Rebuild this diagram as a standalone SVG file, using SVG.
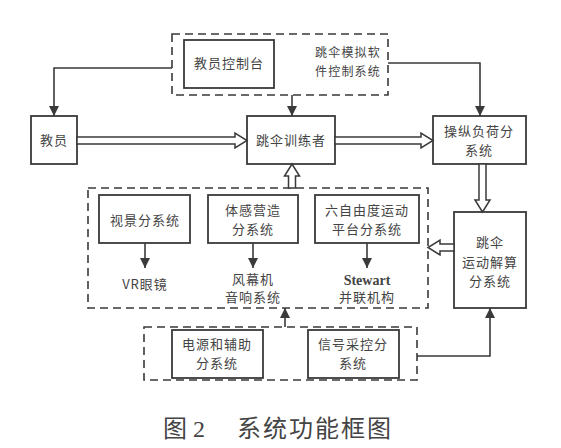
<svg xmlns="http://www.w3.org/2000/svg" width="561" height="448" viewBox="0 0 561 448">
<defs>
<style>
.box{fill:#fff;stroke:#3a3a3a;stroke-width:1.8}
.dash{fill:none;stroke:#3a3a3a;stroke-width:1.6;stroke-dasharray:8,5}
.ln{fill:none;stroke:#3a3a3a;stroke-width:1.6}
.hol{fill:#fff;stroke:#3a3a3a;stroke-width:1.5;stroke-linejoin:miter}
.t{font-family:"Noto Sans CJK SC","Liberation Sans",sans-serif;font-size:13px;fill:#444;text-anchor:middle;letter-spacing:1px}
.tl{font-family:"Noto Sans CJK SC","Liberation Sans",sans-serif;font-size:12px;fill:#444;letter-spacing:1.2px}
.en{font-family:"Liberation Serif",serif;font-size:14px;font-weight:bold;fill:#444;text-anchor:middle}
.cap{font-family:"Liberation Serif","Noto Sans CJK SC",serif;font-size:24px;fill:#444}
</style>
<marker id="ah" viewBox="0 0 10 10" refX="10" refY="5" markerWidth="10" markerHeight="10" markerUnits="userSpaceOnUse" orient="auto">
<path d="M0,0 L10,5 L0,10 z" fill="#3a3a3a"/>
</marker>
</defs>
<rect width="561" height="448" fill="#fff"/>

<g id="software-group">
<rect class="dash" x="172" y="34" width="216" height="61"/>
<text class="tl" x="315" y="57">跳伞模拟软</text>
<text class="tl" x="315" y="76">件控制系统</text>
</g>
<g id="console">
<rect class="box" x="184" y="40" width="90" height="48"/>
<text class="t" x="229" y="68">教员控制台</text>
</g>
<g id="instructor">
<rect class="box" x="31" y="116" width="46" height="48"/>
<text class="t" x="54" y="145">教员</text>
</g>
<g id="trainee">
<rect class="box" x="247" y="116" width="88" height="48"/>
<text class="t" x="291" y="145">跳伞训练者</text>
</g>
<g id="load">
<rect class="box" x="433" y="116" width="93" height="48"/>
<text class="t" x="479" y="136">操纵负荷分</text>
<text class="t" x="479" y="155">系统</text>
</g>
<g id="solver">
<rect class="box" x="454" y="212" width="72" height="96"/>
<text class="t" x="490" y="247">跳伞</text>
<text class="t" x="490" y="267">运动解算</text>
<text class="t" x="490" y="286">分系统</text>
</g>
<g id="sub-group">
<rect class="dash" x="88" y="188" width="340" height="120"/>
</g>
<g id="visual">
<rect class="box" x="99" y="195" width="91" height="48"/>
<text class="t" x="145" y="225">视景分系统</text>
<text class="t" x="145" y="289">VR眼镜</text>
</g>
<g id="sense">
<rect class="box" x="208" y="195" width="90" height="48"/>
<text class="t" x="253" y="215">体感营造</text>
<text class="t" x="253" y="234">分系统</text>
<text class="t" x="253" y="284">风幕机</text>
<text class="t" x="253" y="302">音响系统</text>
</g>
<g id="platform">
<rect class="box" x="315" y="195" width="104" height="48"/>
<text class="t" x="367" y="215">六自由度运动</text>
<text class="t" x="367" y="234">平台分系统</text>
<text class="en" x="367" y="285">Stewart</text>
<text class="t" x="367" y="302">并联机构</text>
</g>
<g id="bottom-group">
<rect class="dash" x="144" y="327" width="273" height="53"/>
</g>
<g id="power">
<rect class="box" x="172" y="330" width="91" height="48"/>
<text class="t" x="217" y="349">电源和辅助</text>
<text class="t" x="217" y="368">分系统</text>
</g>
<g id="signal">
<rect class="box" x="308" y="330" width="91" height="48"/>
<text class="t" x="353" y="349">信号采控分</text>
<text class="t" x="353" y="368">系统</text>
</g>

<g id="connectors">
<polyline class="ln" points="172,68 54,68 54,116" marker-end="url(#ah)"/>
<line class="ln" x1="292" y1="95" x2="292" y2="116" marker-end="url(#ah)"/>
<polyline class="ln" points="388,63 480,63 480,116" marker-end="url(#ah)"/>
<line class="ln" x1="145" y1="243" x2="145" y2="268" marker-end="url(#ah)"/>
<line class="ln" x1="253" y1="243" x2="253" y2="268" marker-end="url(#ah)"/>
<line class="ln" x1="367" y1="243" x2="367" y2="268" marker-end="url(#ah)"/>
<line class="ln" x1="285" y1="327" x2="285" y2="308" marker-end="url(#ah)"/>
<polyline class="ln" points="417,356 490,356 490,308" marker-end="url(#ah)"/>
<polygon class="hol" points="77,137 235,137 235,133 247,140.5 235,148 235,144 77,144"/>
<polygon class="hol" points="335,137 421,137 421,133 433,140.5 421,148 421,144 335,144"/>
<polygon class="hol" points="479,164 479,200 475,200 482.5,212 490,200 486,200 486,164"/>
<polygon class="hol" points="454,244 440,244 440,240 428,247.5 440,255 440,251 454,251"/>
<polygon class="hol" points="288.5,188 288.5,176 284.5,176 292,164 299.5,176 295.5,176 295.5,188"/>
</g>

<text class="cap" x="163" y="437">图 2</text>
<text class="cap" x="237" y="437" letter-spacing="2">系统功能框图</text>
</svg>
